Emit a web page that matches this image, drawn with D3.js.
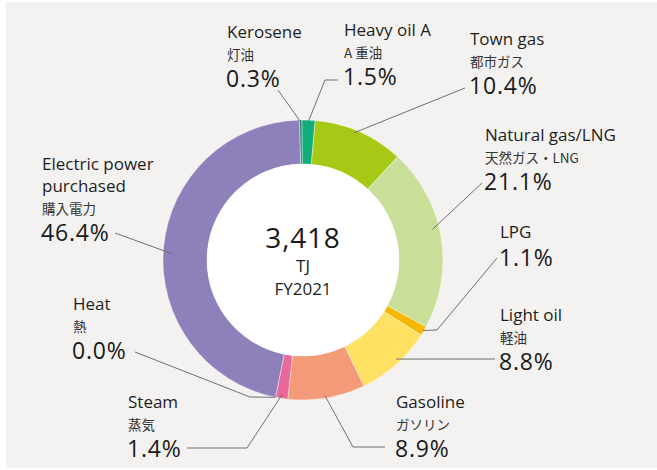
<!DOCTYPE html>
<html>
<head>
<meta charset="utf-8">
<script src="https://cdn.jsdelivr.net/npm/d3@7"></script>
<style>
  body { margin: 0; background: #ffffff; }
  svg { display: block; }
  text { font-family: "Open Sans", "Noto Sans", sans-serif; fill: #1e1e1e; }
  .jp { font-family: "Noto Sans CJK JP", sans-serif; fill: #333; }
  .pct { font-weight: 400; letter-spacing: 0.8px; fill: #1a1a1a; }
</style>
</head>
<body>
<svg width="657" height="470"></svg>
<script>
// energy sources, clockwise from the top
var names = ["Kerosene", "Heavy oil A", "Town gas", "Natural gas/LNG", "LPG",
  "Light oil", "Gasoline", "Steam", "Heat", "Electric power purchased"];
var namesJp = ["灯油", "A 重油", "都市ガス", "天然ガス・LNG", "",
  "軽油", "ガソリン", "蒸気", "熱", "購入電力"];
var shares = [0.3, 1.5, 10.4, 21.1, 1.1, 8.8, 8.9, 1.4, 0.0, 46.4];
var colors = ["#2f7f6c", "#12ae7a", "#a6c916", "#c9df99", "#f6b700",
  "#fee062", "#f39b78", "#e8699a", "#c7c7c7", "#8e80bb"];
var total = "3,418";
var unit = "TJ";
var year = "FY2021";

// label placement (text x/baseline, leader elbow points, where leader meets ring)
var layout = [
  {x: 227, y: 38, lines: ["Kerosene"], pts: [[278, 90]], t: 0.5, r: 138},
  {x: 344, y: 36, lines: ["Heavy oil A"], pts: [[338, 80], [325, 80]], t: 0.5, r: 139},
  {x: 470, y: 45, lines: ["Town gas"], pts: [[465, 88]], t: 0.45, r: 137},
  {x: 485, y: 141, lines: ["Natural gas/LNG"], pts: [[482, 183]], t: 0.45, r: 133},
  {x: 500, y: 238, lines: ["LPG"], pts: [[497, 258], [437, 330]], t: 0.5, r: 139},
  {x: 500, y: 321, lines: ["Light oil"], pts: [[495, 359]], t: 0.45, r: 136},
  {x: 396, y: 408, lines: ["Gasoline"], pts: [[385, 447], [353, 447]], t: 0.52, r: 137},
  {x: 128, y: 408, lines: ["Steam"], pts: [[187, 448], [247, 448]], t: 0.5, r: 136},
  {x: 73, y: 310, lines: ["Heat"], pts: [[135, 352], [250, 397]], t: 0.5, r: 140},
  {x: 42, y: 170, lines: ["Electric power", "purchased"], pts: [[115, 233]], t: 0.487, r: 131}
];

var svg = d3.select("svg");
var width = 657, height = 470;
var cx = 303, cy = 260;
var outerR = 140, innerR = 96;
var offset = -0.026;

svg.append("rect")
  .attr("x", 6).attr("y", 2)
  .attr("width", width - 6).attr("height", height - 4)
  .attr("fill", "#f3f2f0");

var pie = d3.pie()
  .sort(null)
  .value(function(d){ return d; })
  .startAngle(offset)
  .endAngle(2 * Math.PI + offset);

var arcs = pie(shares);

var arc = d3.arc().innerRadius(innerR).outerRadius(outerR);

var g = svg.append("g").attr("transform", "translate(" + cx + "," + cy + ")");

g.selectAll("path")
  .data(arcs)
  .enter()
  .append("path")
  .attr("d", arc)
  .attr("fill", function(d, i){ return colors[i]; })
  .attr("stroke", "#ffffff")
  .attr("stroke-width", function(d){ return d.value > 0 ? 0.4 : 0; });

g.append("circle").attr("r", innerR).attr("fill", "#ffffff");

// center text
g.append("text").attr("text-anchor", "middle").attr("y", -12)
  .attr("class", "pct")
  .style("font-size", "28px").text(total);
g.append("text").attr("text-anchor", "middle").attr("y", 12)
  .style("font-size", "17px").text(unit);
g.append("text").attr("text-anchor", "middle").attr("y", 35)
  .style("font-size", "17px").text(year);

// leader lines
var line = d3.line();
arcs.forEach(function(a, i){
  var L = layout[i];
  var ang = a.startAngle + (a.endAngle - a.startAngle) * L.t;
  var end = [cx + L.r * Math.sin(ang), cy - L.r * Math.cos(ang)];
  svg.append("path")
    .attr("d", line(L.pts.concat([end])))
    .attr("fill", "none")
    .attr("stroke", "#707070")
    .attr("stroke-width", 1);
});

// labels
layout.forEach(function(L, i){
  var y = L.y;
  L.lines.forEach(function(s, k){
    svg.append("text").attr("x", L.x).attr("y", y + k * 22)
      .style("font-size", "17px").text(s);
  });
  y += (L.lines.length - 1) * 22;
  if (namesJp[i]) {
    y += 22;
    svg.append("text").attr("class", "jp").attr("x", L.x).attr("y", y)
      .style("font-size", "13.5px").text(namesJp[i]);
    y += 27;
  } else {
    y += 28;
  }
  svg.append("text").attr("class", "pct").attr("x", L.x - 1).attr("y", y)
    .style("font-size", "23px").text(shares[i].toFixed(1) + "%");
});
</script>
</body>
</html>
